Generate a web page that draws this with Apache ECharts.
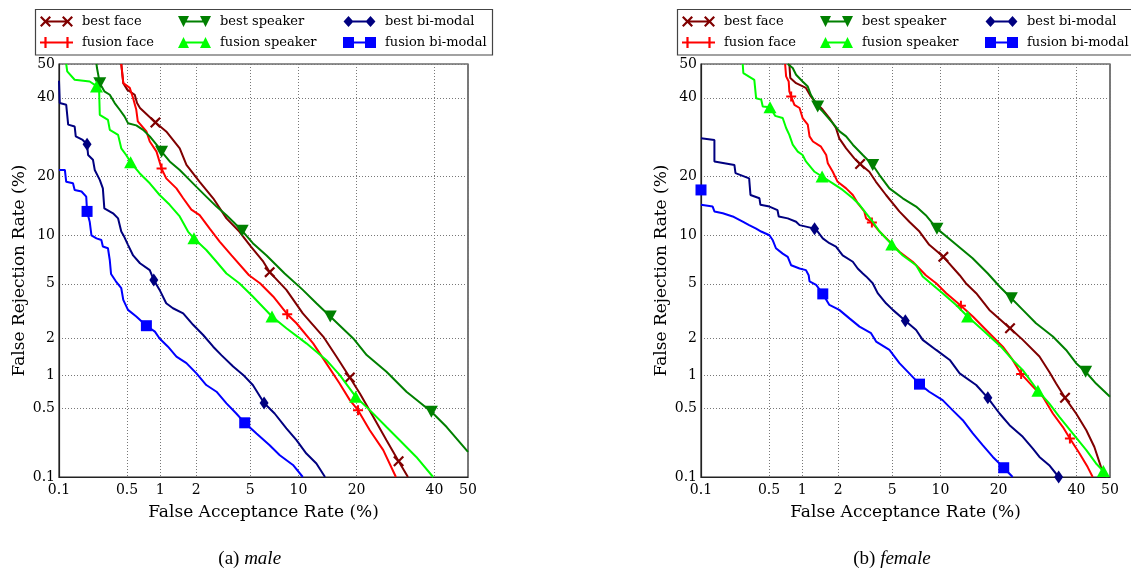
<!DOCTYPE html>
<html>
<head>
<meta charset="utf-8">
<script src="https://cdn.jsdelivr.net/npm/echarts@6/dist/echarts.min.js"></script>
<style>
html,body{margin:0;padding:0;background:#fff;}
#chart{width:1131px;height:570px;}
</style>
</head>
<body>
<div id="chart"></div>
<script>
// ---------- data: [FAR %, FRR %] ----------
const tickLabels = [0.1, 0.5, 1, 2, 5, 10, 20, 40, 50];
const seriesNames = ['best face', 'fusion face', 'best speaker', 'fusion speaker', 'best bi-modal', 'fusion bi-modal'];

const maleBestFace = [[0.44,50],[0.46,44.3],[0.50,42.4],[0.59,40.9],[0.62,38.5],[0.66,37.1],[0.91,33.1],[1.13,30.7],[1.47,26.4],[1.67,22.5],[2.13,18.9],[2.71,15.75],[3.4,12.4],[4.2,10.5],[5.05,8.6],[6.1,6.95],[6.7,5.97],[8.5,4.55],[10.6,3.1],[13.7,2.07],[16.0,1.43],[18.6,0.95],[20.7,0.685],[23.7,0.415],[26.9,0.244],[30.0,0.148],[32.5,0.1]];
const maleFusionFace = [[0.44,50],[0.46,44.3],[0.53,42.9],[0.57,39.9],[0.61,36.6],[0.63,33.4],[0.755,30.7],[0.81,28.1],[0.93,25.6],[1.03,21.7],[1.13,19.6],[1.38,17.6],[1.57,15.75],[1.83,13.8],[2.13,12.9],[2.55,10.9],[3.03,9.2],[3.7,7.6],[4.9,5.7],[5.8,5.05],[7.05,4.1],[8.6,3.06],[9.75,2.62],[12.1,1.83],[14.2,1.26],[16.6,0.84],[18.6,0.595],[20.3,0.48],[22.9,0.307],[26.1,0.193],[29.3,0.1]];
const maleBestSpeaker = [[0.25,50],[0.253,48.8],[0.27,44.3],[0.30,41.9],[0.34,40.9],[0.38,38.5],[0.425,36.6],[0.474,34.7],[0.51,32.9],[0.61,32.3],[0.705,31.1],[0.81,29.4],[0.93,27.3],[1.03,25.6],[1.21,23.3],[1.47,21.4],[1.72,19.6],[2.01,17.9],[2.4,16.05],[2.87,14.3],[3.4,12.9],[3.8,11.9],[4.4,10.6],[5.2,9.0],[6.4,7.6],[8.3,5.85],[10.6,4.55],[12.6,3.67],[14.9,2.94],[19.3,2.0],[22.2,1.47],[26.9,1.065],[32.1,0.71],[39.1,0.463],[43.6,0.33],[50,0.185]];
const maleFusionSpeaker = [[0.12,50],[0.123,47.8],[0.148,45.3],[0.213,44.8],[0.24,43.8],[0.253,42.9],[0.266,41.9],[0.27,35.2],[0.326,33.8],[0.34,31.1],[0.41,29.8],[0.44,26.4],[0.49,24.8],[0.54,23.1],[0.655,20.7],[0.81,18.6],[0.99,16.35],[1.21,14.6],[1.47,12.7],[1.72,10.5],[1.92,9.6],[2.4,8.2],[2.87,6.95],[3.4,5.85],[4.2,5.05],[5.2,4.1],[6.93,2.94],[8.5,2.4],[11.1,1.83],[14.2,1.34],[16.6,1.0],[19.8,0.64],[22.9,0.48],[26.9,0.33],[30.3,0.244],[34.8,0.164],[39.6,0.1]];
const maleBestBimodal = [[0.1,45.0],[0.102,38.5],[0.12,38.0],[0.126,32.5],[0.148,32.0],[0.152,29.4],[0.18,28.5],[0.2,27.4],[0.205,24.8],[0.23,23.7],[0.24,21.4],[0.27,19.3],[0.29,17.6],[0.30,14.0],[0.366,13.2],[0.41,12.4],[0.44,10.5],[0.47,9.8],[0.51,8.8],[0.57,7.6],[0.66,6.8],[0.81,6.15],[0.88,5.3],[0.99,4.55],[1.13,3.67],[1.29,3.38],[1.57,3.1],[1.89,2.55],[2.27,2.13],[2.71,1.72],[3.12,1.47],[3.8,1.18],[4.47,1.0],[5.2,0.815],[6.17,0.56],[7.2,0.446],[8.5,0.32],[9.75,0.244],[11.1,0.178],[12.6,0.14],[14.0,0.1]];
const maleFusionBimodal = [[0.1,21.4],[0.116,21.4],[0.12,18.9],[0.142,18.6],[0.148,17.3],[0.175,17.0],[0.196,16.05],[0.2,13.5],[0.213,11.9],[0.222,10.0],[0.25,9.6],[0.28,9.4],[0.29,8.6],[0.326,8.4],[0.34,7.1],[0.35,5.8],[0.39,5.2],[0.44,4.67],[0.46,3.88],[0.51,3.29],[0.61,2.94],[0.755,2.51],[0.9,2.26],[0.99,2.0],[1.17,1.72],[1.38,1.43],[1.67,1.26],[2.01,1.03],[2.4,0.815],[2.87,0.71],[3.4,0.555],[4.0,0.446],[4.58,0.363],[5.5,0.285],[6.7,0.217],[7.75,0.171],[9.3,0.135],[10.6,0.1]];

const maleBestFaceMarks = [[0.91,33.1],[6.7,5.97],[18.6,0.95],[30.0,0.148]];
const maleFusionFaceMarks = [[1.03,21.7],[8.6,3.06],[20.3,0.48]];
const maleBestSpeakerMarks = [[0.27,44.3],[1.03,25.6],[4.4,10.6],[14.9,2.94],[39.1,0.463]];
const maleFusionSpeakerMarks = [[0.25,43.3],[0.54,23.1],[1.92,9.6],[6.93,2.94],[19.8,0.64]];
const maleBestBimodalMarks = [[0.2,27.4],[0.88,5.3],[6.17,0.56]];
const maleFusionBimodalMarks = [[0.2,13.5],[0.755,2.51],[4.58,0.363]];

const femaleBestFace = [[0.77,50],[0.786,45.8],[0.885,44.3],[1.08,42.9],[1.19,40.4],[1.32,38.5],[1.5,36.6],[1.7,34.3],[1.92,31.6],[2.04,28.9],[2.31,26.4],[2.67,24.0],[2.95,22.7],[3.45,21.0],[3.85,18.9],[4.53,16.35],[5.57,13.5],[6.47,11.9],[7.5,10.5],[8.6,8.8],[10.4,7.45],[12.8,5.7],[13.8,5.05],[15.6,4.32],[18.1,3.29],[22.5,2.4],[25.5,1.95],[29.7,1.43],[32.3,1.065],[34.2,0.84],[36.7,0.625],[39.9,0.446],[42.9,0.307],[45.3,0.208],[47.3,0.128],[48.3,0.1]];
const femaleFusionFace = [[0.705,50],[0.72,46.3],[0.76,44.8],[0.77,41.9],[0.8,40.4],[0.855,38.0],[0.95,37.1],[1.01,34.3],[1.12,32.5],[1.16,29.4],[1.24,28.1],[1.45,26.8],[1.6,24.8],[1.65,22.9],[1.81,21.0],[1.98,18.9],[2.31,17.6],[2.6,16.35],[2.83,14.9],[3.17,13.5],[3.27,12.4],[3.6,11.8],[4.08,10.5],[4.78,9.2],[5.58,8.0],[6.8,6.95],[8.2,5.7],[9.45,5.05],[10.8,4.32],[13.0,3.52],[15.0,2.94],[18.1,2.2],[20.9,1.72],[23.1,1.34],[25.1,1.02],[28.0,0.79],[30.6,0.64],[33.3,0.446],[36.1,0.33],[38.1,0.254],[40.9,0.178],[43.3,0.128],[44.8,0.1]];
const femaleBestSpeaker = [[0.745,50],[0.826,48.8],[0.885,46.8],[1.01,44.8],[1.12,43.3],[1.19,40.9],[1.36,37.5],[1.5,36.1],[1.81,32.9],[2.05,30.7],[2.31,29.4],[2.6,27.3],[3.09,24.8],[3.65,22.5],[4.08,20.3],[4.78,17.6],[5.87,15.75],[7.15,14.3],[8.2,12.9],[9.55,10.9],[11.7,9.2],[14.96,7.3],[17.8,5.85],[20.2,4.8],[22.8,3.98],[25.5,3.29],[28.8,2.62],[33.3,2.07],[37.0,1.62],[39.9,1.26],[42.7,1.065],[45.8,0.84],[50,0.64]];
const femaleFusionSpeaker = [[0.276,50],[0.28,47.3],[0.36,45.3],[0.375,39.9],[0.42,39.5],[0.435,37.5],[0.51,37.3],[0.57,34.9],[0.67,34.3],[0.72,31.6],[0.77,29.8],[0.826,27.3],[0.916,25.6],[1.01,24.8],[1.08,23.3],[1.28,21.0],[1.48,20.0],[1.81,18.6],[2.17,17.3],[2.6,15.75],[2.92,14.6],[3.27,13.2],[3.65,11.9],[4.08,10.5],[4.96,8.85],[5.87,7.6],[7.15,6.6],[7.85,5.6],[10.3,4.32],[12.25,3.57],[14.1,2.94],[16.8,2.33],[20.5,1.72],[23.1,1.34],[25.5,1.1],[29.3,0.725],[32.3,0.555],[35.1,0.415],[38.9,0.285],[42.9,0.193],[45.8,0.14],[48.0,0.116],[49.3,0.1]];
const femaleBestBimodal = [[0.1,28.9],[0.14,28.5],[0.14,23.3],[0.227,22.5],[0.233,20.7],[0.32,19.6],[0.33,16.35],[0.404,15.75],[0.413,14.6],[0.504,14.3],[0.6,13.7],[0.616,12.7],[0.745,12.4],[0.885,11.9],[0.95,11.4],[1.28,10.9],[1.36,10.5],[1.5,9.6],[1.7,9.0],[1.92,8.6],[2.17,7.6],[2.6,6.95],[2.83,6.3],[3.09,5.85],[3.27,5.6],[3.65,5.05],[3.96,4.32],[4.53,3.67],[5.04,3.29],[6.1,2.74],[7.15,2.33],[7.85,1.95],[9.45,1.62],[11.3,1.34],[12.8,1.03],[15.6,0.815],[17.8,0.625],[20.2,0.446],[22.4,0.344],[25.5,0.264],[28.0,0.2],[29.7,0.164],[32.3,0.134],[34.9,0.1]];
const femaleFusionBimodal = [[0.1,14.6],[0.134,14.3],[0.14,13.5],[0.172,13.2],[0.218,12.7],[0.276,11.9],[0.32,11.4],[0.375,10.9],[0.42,10.5],[0.504,10.0],[0.54,9.4],[0.58,8.4],[0.67,7.8],[0.745,7.45],[0.8,6.6],[0.95,6.3],[1.08,6.15],[1.14,5.7],[1.16,5.2],[1.32,4.92],[1.5,4.27],[1.7,3.57],[2.04,3.29],[2.45,2.85],[2.92,2.47],[3.55,2.2],[3.86,1.89],[4.78,1.62],[5.58,1.26],[6.47,1.03],[7.5,0.83],[8.6,0.71],[10.3,0.595],[11.7,0.48],[13.3,0.385],[15.0,0.285],[16.8,0.217],[18.8,0.164],[21.1,0.126],[23.1,0.1]];

const femaleBestFaceMarks = [[2.95,22.7],[10.4,7.45],[22.5,2.4],[36.7,0.625]];
const femaleFusionFaceMarks = [[0.8,40.4],[3.6,11.8],[13.0,3.52],[25.1,1.02],[38.1,0.254]];
const femaleBestSpeakerMarks = [[1.36,37.5],[3.65,22.5],[9.55,10.9],[22.8,3.98],[42.7,1.065]];
const femaleFusionSpeakerMarks = [[0.51,37.3],[1.48,20.0],[4.96,8.85],[14.1,2.94],[29.3,0.725],[48.0,0.116]];
const femaleBestBimodalMarks = [[1.28,10.9],[6.1,2.74],[17.8,0.625],[34.9,0.1]];
const femaleFusionBimodalMarks = [[0.1,17.3],[1.5,4.27],[7.5,0.83],[21.1,0.126]];

// ---------- normal deviate (DET) scale ----------
function probit(p) {
  const a=[-3.969683028665376e+01,2.209460984245205e+02,-2.759285104469687e+02,1.383577518672690e+02,-3.066479806614716e+01,2.506628277459239e+00];
  const b=[-5.447609879822406e+01,1.615858368580409e+02,-1.556989798598866e+02,6.680131188771972e+01,-1.328068155288572e+01];
  const c=[-7.784894002430293e-03,-3.223964580411365e-01,-2.400758277161838e+00,-2.549732539343734e+00,4.374664141464968e+00,2.938163982698783e+00];
  const d=[7.784695709041462e-03,3.224671290700398e-01,2.445134137142996e+00,3.754408661907416e+00];
  const pl=0.02425, ph=1-pl; let q, r;
  if (p < pl) { q=Math.sqrt(-2*Math.log(p)); return (((((c[0]*q+c[1])*q+c[2])*q+c[3])*q+c[4])*q+c[5])/((((d[0]*q+d[1])*q+d[2])*q+d[3])*q+1); }
  if (p <= ph) { q=p-0.5; r=q*q; return (((((a[0]*r+a[1])*r+a[2])*r+a[3])*r+a[4])*r+a[5])*q/(((((b[0]*r+b[1])*r+b[2])*r+b[3])*r+b[4])*r+1); }
  q=Math.sqrt(-2*Math.log(1-p)); return -(((((c[0]*q+c[1])*q+c[2])*q+c[3])*q+c[4])*q+c[5])/((((d[0]*q+d[1])*q+d[2])*q+d[3])*q+1);
}
const conv = arr => arr.map(v => [probit(v[0]/100), probit(v[1]/100)]);
const axMin = probit(tickLabels[0]/100), axMax = 0;
const tickPos = tickLabels.map(v => v === 50 ? 0 : probit(v/100));
function fmt(val) {
  for (let i = 0; i < tickPos.length; i++) if (Math.abs(tickPos[i]-val) < 1e-6) return String(tickLabels[i]);
  return '';
}

// ---------- styles ----------
const crossPath = 'M5,3.59L8.6,0L10,1.4L6.41,5L10,8.6L8.6,10L5,6.41L1.4,10L0,8.6L3.59,5L0,1.4L1.4,0Z';
const plusPath = 'M4,0L6,0L6,4L10,4L10,6L6,6L6,10L4,10L4,6L0,6L0,4L4,4Z';
function shift(path, dx) { return path.replace(/(-?[\d.]+),(-?[\d.]+)/g, (m, x, y) => (parseFloat(x)+dx) + ',' + y); }
const bar = 'M5,4.2L25,4.2L25,5.8L5,5.8Z';
const shapes = {
  cross: crossPath,
  plus: plusPath,
  tdown: 'M0,0L10,0L5,10Z',
  tup: 'M0,10L5,0L10,10Z',
  diamond: 'M5,0L9.5,5L5,10L0.5,5Z',
  square: 'M0,0L10,0L10,10L0,10Z'
};
const styles = {
  'best face':       {color:'#800000', shape:'cross',   symbol:'path://'+crossPath, size:11},
  'fusion face':     {color:'#ff0000', shape:'plus',    symbol:'path://'+plusPath,  size:10},
  'best speaker':    {color:'#008000', shape:'tdown',   symbol:'triangle', rotate:180, size:[13,12]},
  'fusion speaker':  {color:'#00ff00', shape:'tup',     symbol:'triangle', size:[13,12]},
  'best bi-modal':   {color:'#000080', shape:'diamond', symbol:'diamond', size:[9,13]},
  'fusion bi-modal': {color:'#0000ff', shape:'square',  symbol:'rect', size:11}
};
function legendIcon(name) {
  const s = shapes[styles[name].shape];
  return 'path://' + s + shift(s, 20) + bar + 'M0,0L0,0M30,10L30,10';
}

const panels = [
  {lines:[maleBestFace, maleFusionFace, maleBestSpeaker, maleFusionSpeaker, maleBestBimodal, maleFusionBimodal],
   marks:[maleBestFaceMarks, maleFusionFaceMarks, maleBestSpeakerMarks, maleFusionSpeakerMarks, maleBestBimodalMarks, maleFusionBimodalMarks]},
  {lines:[femaleBestFace, femaleFusionFace, femaleBestSpeaker, femaleFusionSpeaker, femaleBestBimodal, femaleFusionBimodal],
   marks:[femaleBestFaceMarks, femaleFusionFaceMarks, femaleBestSpeakerMarks, femaleFusionSpeakerMarks, femaleBestBimodalMarks, femaleFusionBimodalMarks]}
];

const gridLefts = [59, 701];
const tickFont = {fontFamily:'DejaVu Serif', fontSize:14, color:'#000'};
const nameFont = {fontFamily:'DejaVu Serif', fontSize:17, color:'#000'};
const splitStyle = {show:true, lineStyle:{color:'#777', width:1, type:[1,2]}};

const grids = [], xAxes = [], yAxes = [], series = [], legends = [], graphics = [];
panels.forEach((pn, k) => {
  grids.push({left:gridLefts[k], top:64, width:409, height:413, show:true, borderColor:'#222', borderWidth:1.2,
              containLabel:false, outerBoundsMode:'none'});
  xAxes.push({type:'value', gridIndex:k, min:axMin, max:axMax,
    name:'False Acceptance Rate (%)', nameLocation:'middle', nameGap:27, nameTextStyle:nameFont,
    axisLine:{show:true, onZero:false, lineStyle:{color:'#222', width:1.2}},
    axisTick:{show:false, customValues:tickPos},
    axisLabel:{customValues:tickPos, formatter:fmt, margin:6, ...tickFont, showMinLabel:true, showMaxLabel:true, hideOverlap:false},
    splitLine:splitStyle});
  yAxes.push({type:'value', gridIndex:k, min:axMin, max:axMax,
    name:'False Rejection Rate (%)', nameLocation:'middle', nameGap:31, nameTextStyle:nameFont,
    axisLine:{show:true, onZero:false, lineStyle:{color:'#222', width:1.2}},
    axisTick:{show:false, customValues:tickPos},
    axisLabel:{customValues:tickPos, formatter:fmt, margin:4, ...tickFont, showMinLabel:true, showMaxLabel:true, hideOverlap:false},
    splitLine:splitStyle});
  seriesNames.forEach((nm, i) => {
    const st = styles[nm];
    series.push({type:'line', name:nm, xAxisIndex:k, yAxisIndex:k, data:conv(pn.lines[i]),
      showSymbol:false, symbol:'none', animation:false, silent:true,
      lineStyle:{color:st.color, width:2}, itemStyle:{color:st.color}, z:2+i});
    series.push({type:'scatter', name:nm, xAxisIndex:k, yAxisIndex:k, data:conv(pn.marks[i]),
      symbol:st.symbol, symbolSize:st.size, symbolRotate:st.rotate||0, animation:false, silent:true,
      itemStyle:{color:st.color, opacity:1}, z:2+i});
  });
  const off = k*642;
  const cols = [[40,['best face','fusion face']],[178,['best speaker','fusion speaker']],[343,['best bi-modal','fusion bi-modal']]];
  cols.forEach(c => {
    legends.push({left:c[0]+off, top:15, orient:'vertical', itemWidth:33, itemHeight:11, itemGap:8, padding:0,
      selectedMode:false, itemStyle:{borderWidth:0},
      textStyle:{fontFamily:'DejaVu Serif', fontSize:13, color:'#000', padding:[0,0,0,4]},
      data:c[1].map(n => ({name:n, icon:legendIcon(n)}))});
  });
  graphics.push({type:'rect', shape:{x:35.5+off, y:9.5, width:457, height:45.5}, style:{fill:'rgba(0,0,0,0)', stroke:'#444', lineWidth:1.2}, z:-1, silent:true});
});
graphics.push({type:'text', x:249.7, y:559, style:{text:'(a) {i|male}', textAlign:'center', textVerticalAlign:'middle', align:'center', verticalAlign:'middle',
  font:'19px "Liberation Serif"', fill:'#000', rich:{i:{fontStyle:'italic', fontFamily:'Liberation Serif', fontSize:19}}}});
graphics.push({type:'text', x:892, y:559, style:{text:'(b) {i|female}', textAlign:'center', textVerticalAlign:'middle', align:'center', verticalAlign:'middle',
  font:'19px "Liberation Serif"', fill:'#000', rich:{i:{fontStyle:'italic', fontFamily:'Liberation Serif', fontSize:19}}}});

const chart = echarts.init(document.getElementById('chart'), null, {renderer:'canvas'});
chart.setOption({
  animation:false,
  backgroundColor:'#fff',
  grid:grids, xAxis:xAxes, yAxis:yAxes, series:series, legend:legends, graphic:graphics
});
</script>
</body>
</html>
